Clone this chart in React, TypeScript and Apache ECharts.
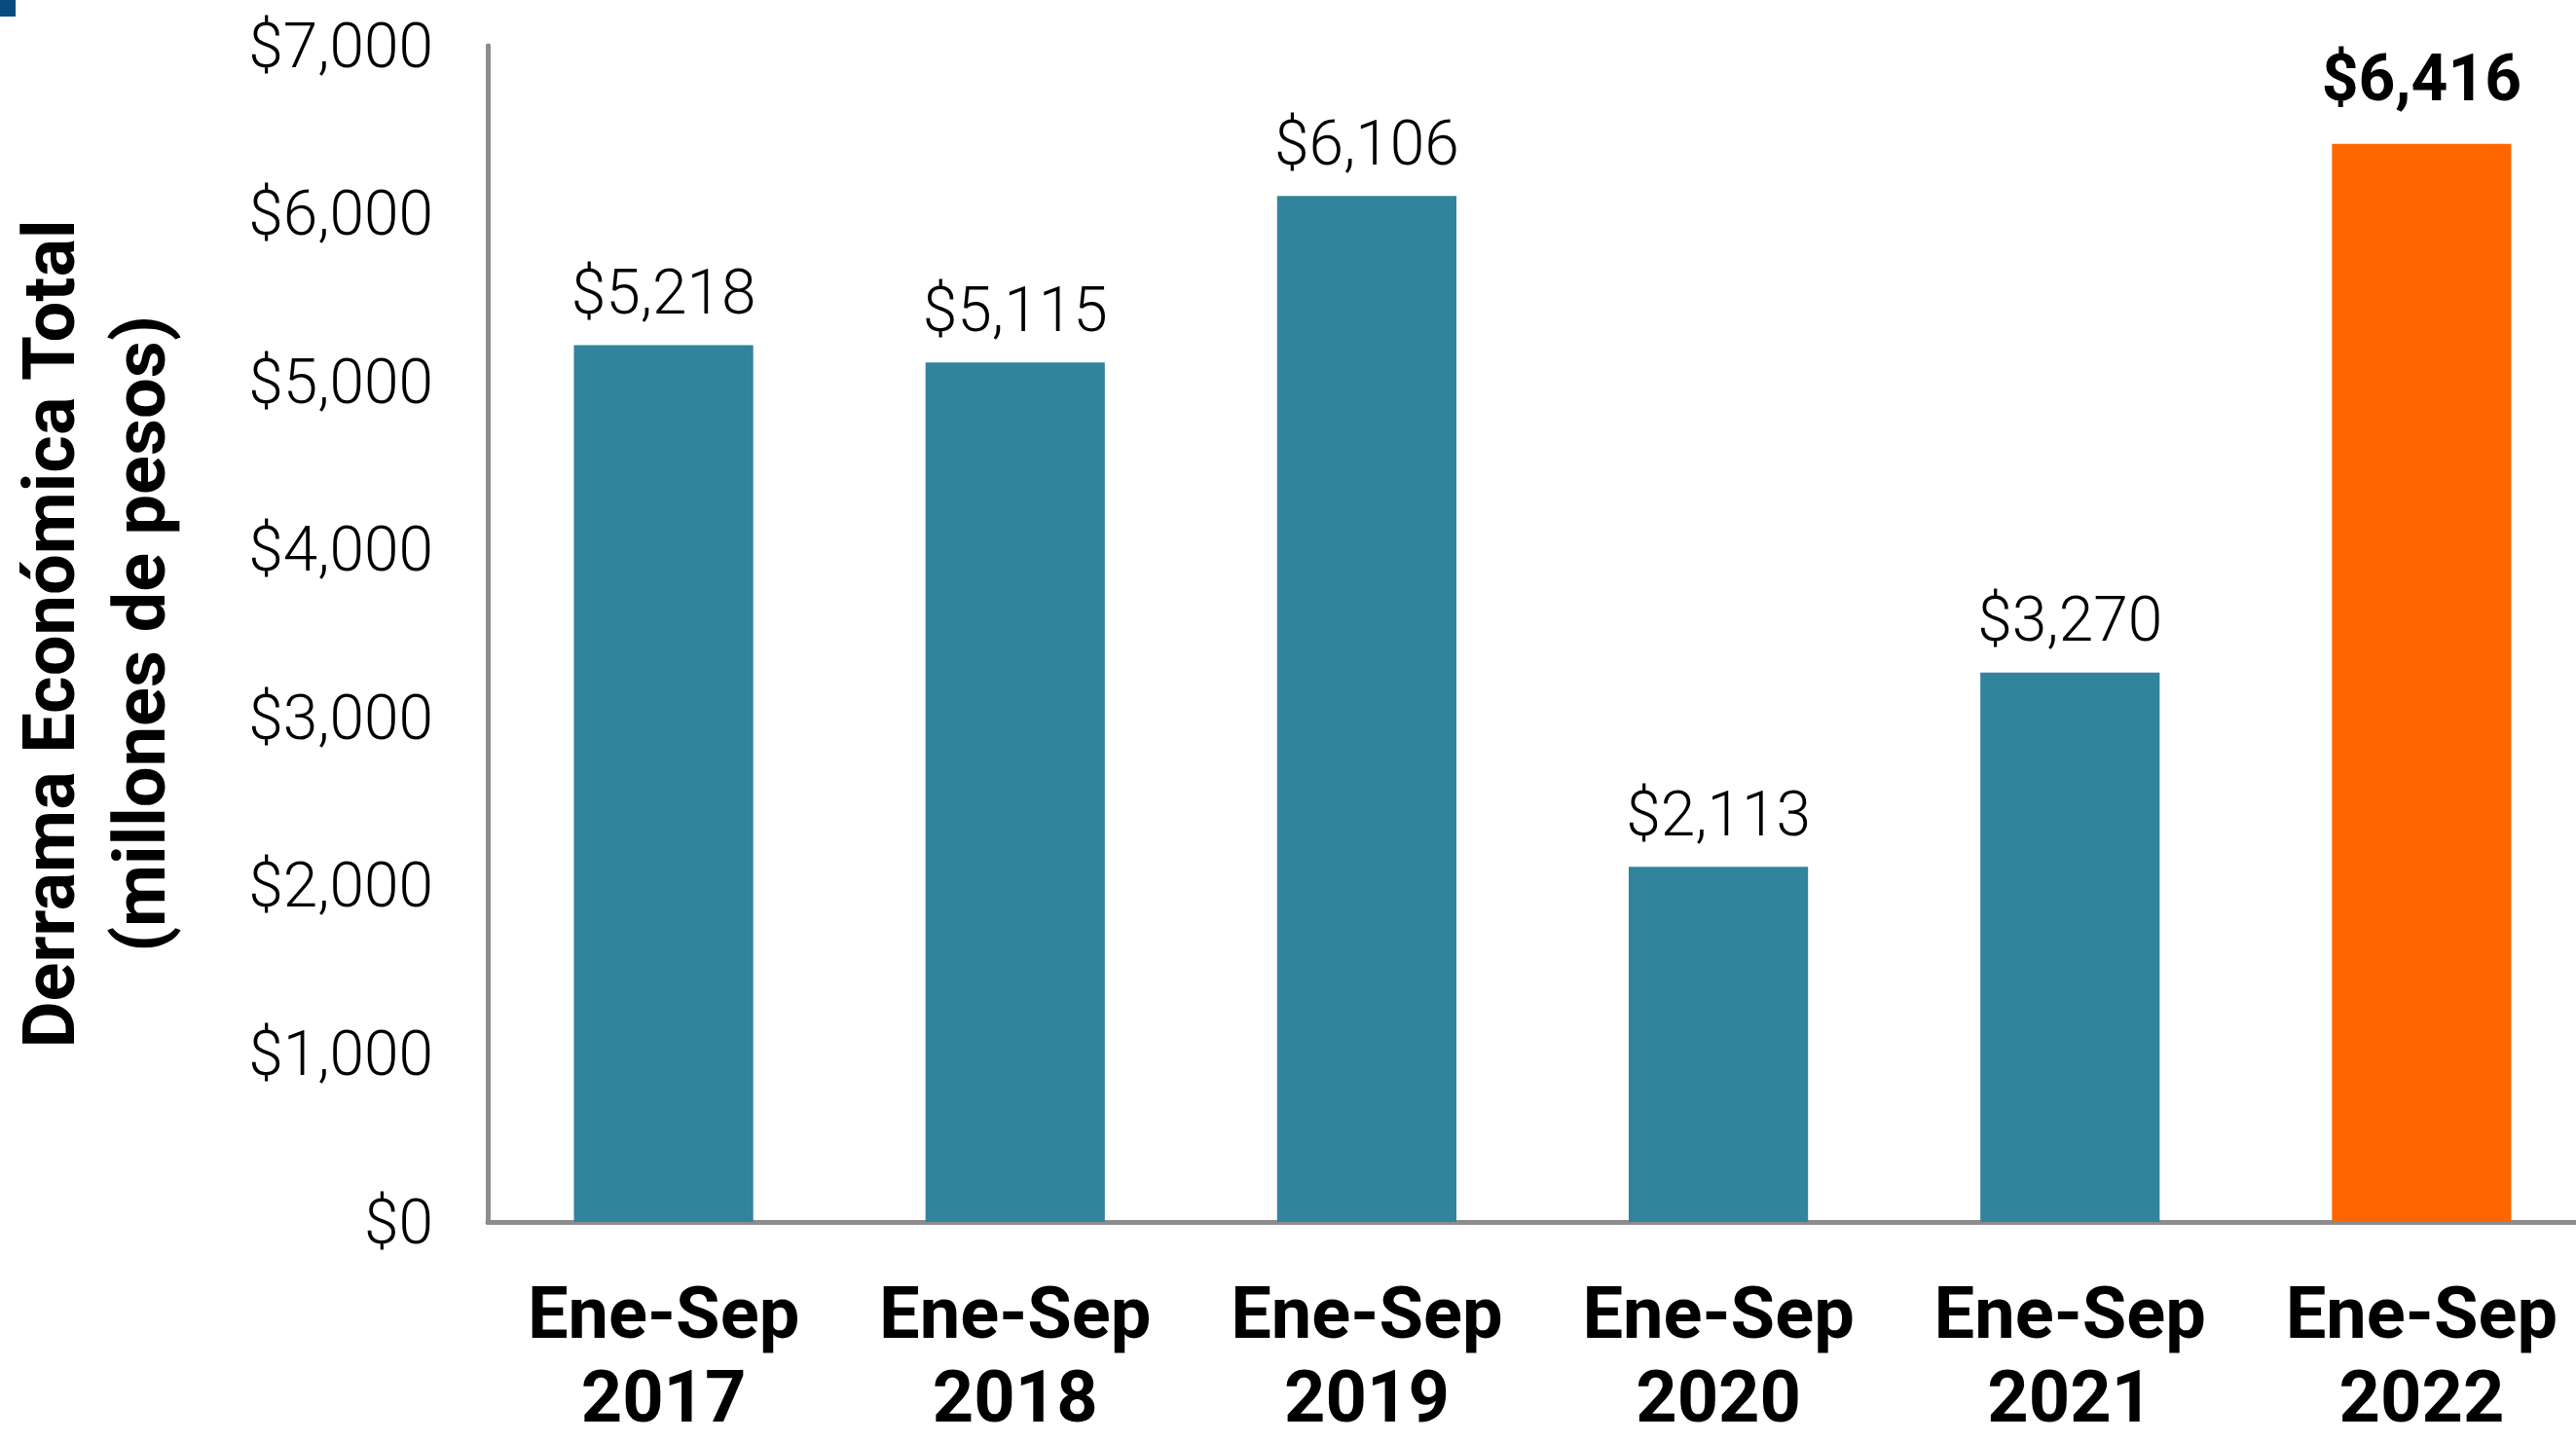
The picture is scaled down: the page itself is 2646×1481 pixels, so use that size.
import React, { useEffect, useRef } from "react";
import * as echarts from "echarts";

const categories = ["Ene-Sep\n2017", "Ene-Sep\n2018", "Ene-Sep\n2019", "Ene-Sep\n2020", "Ene-Sep\n2021", "Ene-Sep\n2022"];
const values = [5218, 5115, 6106, 2113, 3270, 6416];
const barColors = ["#31849B", "#31849B", "#31849B", "#31849B", "#31849B", "#FF6600"];
const highlighted = [false, false, false, false, false, true];
const yAxisTitle = "Derrama Económica Total\n(millones de pesos)";

const fmt = (v: number) => "$" + v.toLocaleString("en-US");

export default function App() {
  const ref = useRef<HTMLDivElement>(null);
  useEffect(() => {
    if (!ref.current) return;
    const chart = echarts.init(ref.current, null, { renderer: "svg" });
    chart.setOption({
      animation: false,
      backgroundColor: "#ffffff",
      textStyle: { fontFamily: "Roboto" },
      graphic: [
        { type: "rect", left: 0, top: 0, shape: { x: 0, y: 0, width: 16, height: 17 }, style: { fill: "#0B4A7E" } },
      ],
      grid: { left: 501, right: 32, top: 47, bottom: 226, containLabel: false, outerBoundsMode: "none" },
      xAxis: {
        type: "category",
        data: categories,
        axisLine: { show: true, lineStyle: { color: "#8C8C8C", width: 5 } },
        axisTick: { show: false },
        axisLabel: {
          interval: 0,
          color: "#000",
          fontFamily: "Roboto",
          fontWeight: "bold",
          fontSize: 74,
          lineHeight: 86,
          margin: 50,
        },
      },
      yAxis: {
        type: "value",
        min: 0,
        max: 7000,
        interval: 1000,
        name: yAxisTitle,
        nameLocation: "middle",
        nameRotate: 90,
        nameGap: 311,
        nameTextStyle: {
          color: "#000",
          fontFamily: "Roboto",
          fontWeight: "bold",
          fontSize: 74,
          lineHeight: 93,
        },
        axisLine: { show: true, lineStyle: { color: "#8C8C8C", width: 5 } },
        axisTick: { show: false },
        splitLine: { show: false },
        axisLabel: {
          color: "#000",
          fontFamily: "Roboto",
          fontWeight: 300,
          fontSize: 64,
          margin: 56,
          formatter: (v: number) => fmt(v),
        },
      },
      series: [
        {
          type: "bar",
          barCategoryGap: "49%",
          data: values.map((v, i) => ({
            value: v,
            itemStyle: { color: barColors[i] },
            label: highlighted[i]
              ? { fontWeight: "bold", fontSize: 66, distance: 34 }
              : undefined,
          })),
          label: {
            show: true,
            position: "top",
            distance: 22,
            color: "#000",
            fontFamily: "Roboto",
            fontWeight: 300,
            fontSize: 64,
            formatter: (p: any) => fmt(p.value),
          },
        },
      ],
    });
    return () => chart.dispose();
  }, []);
  return (
    <div style={{ position: "fixed", left: 0, top: 0, width: 2646, height: 1481, overflow: "hidden", background: "#fff" }}>
      <div ref={ref} style={{ width: 2700, height: 1481 }} />
    </div>
  );
}
